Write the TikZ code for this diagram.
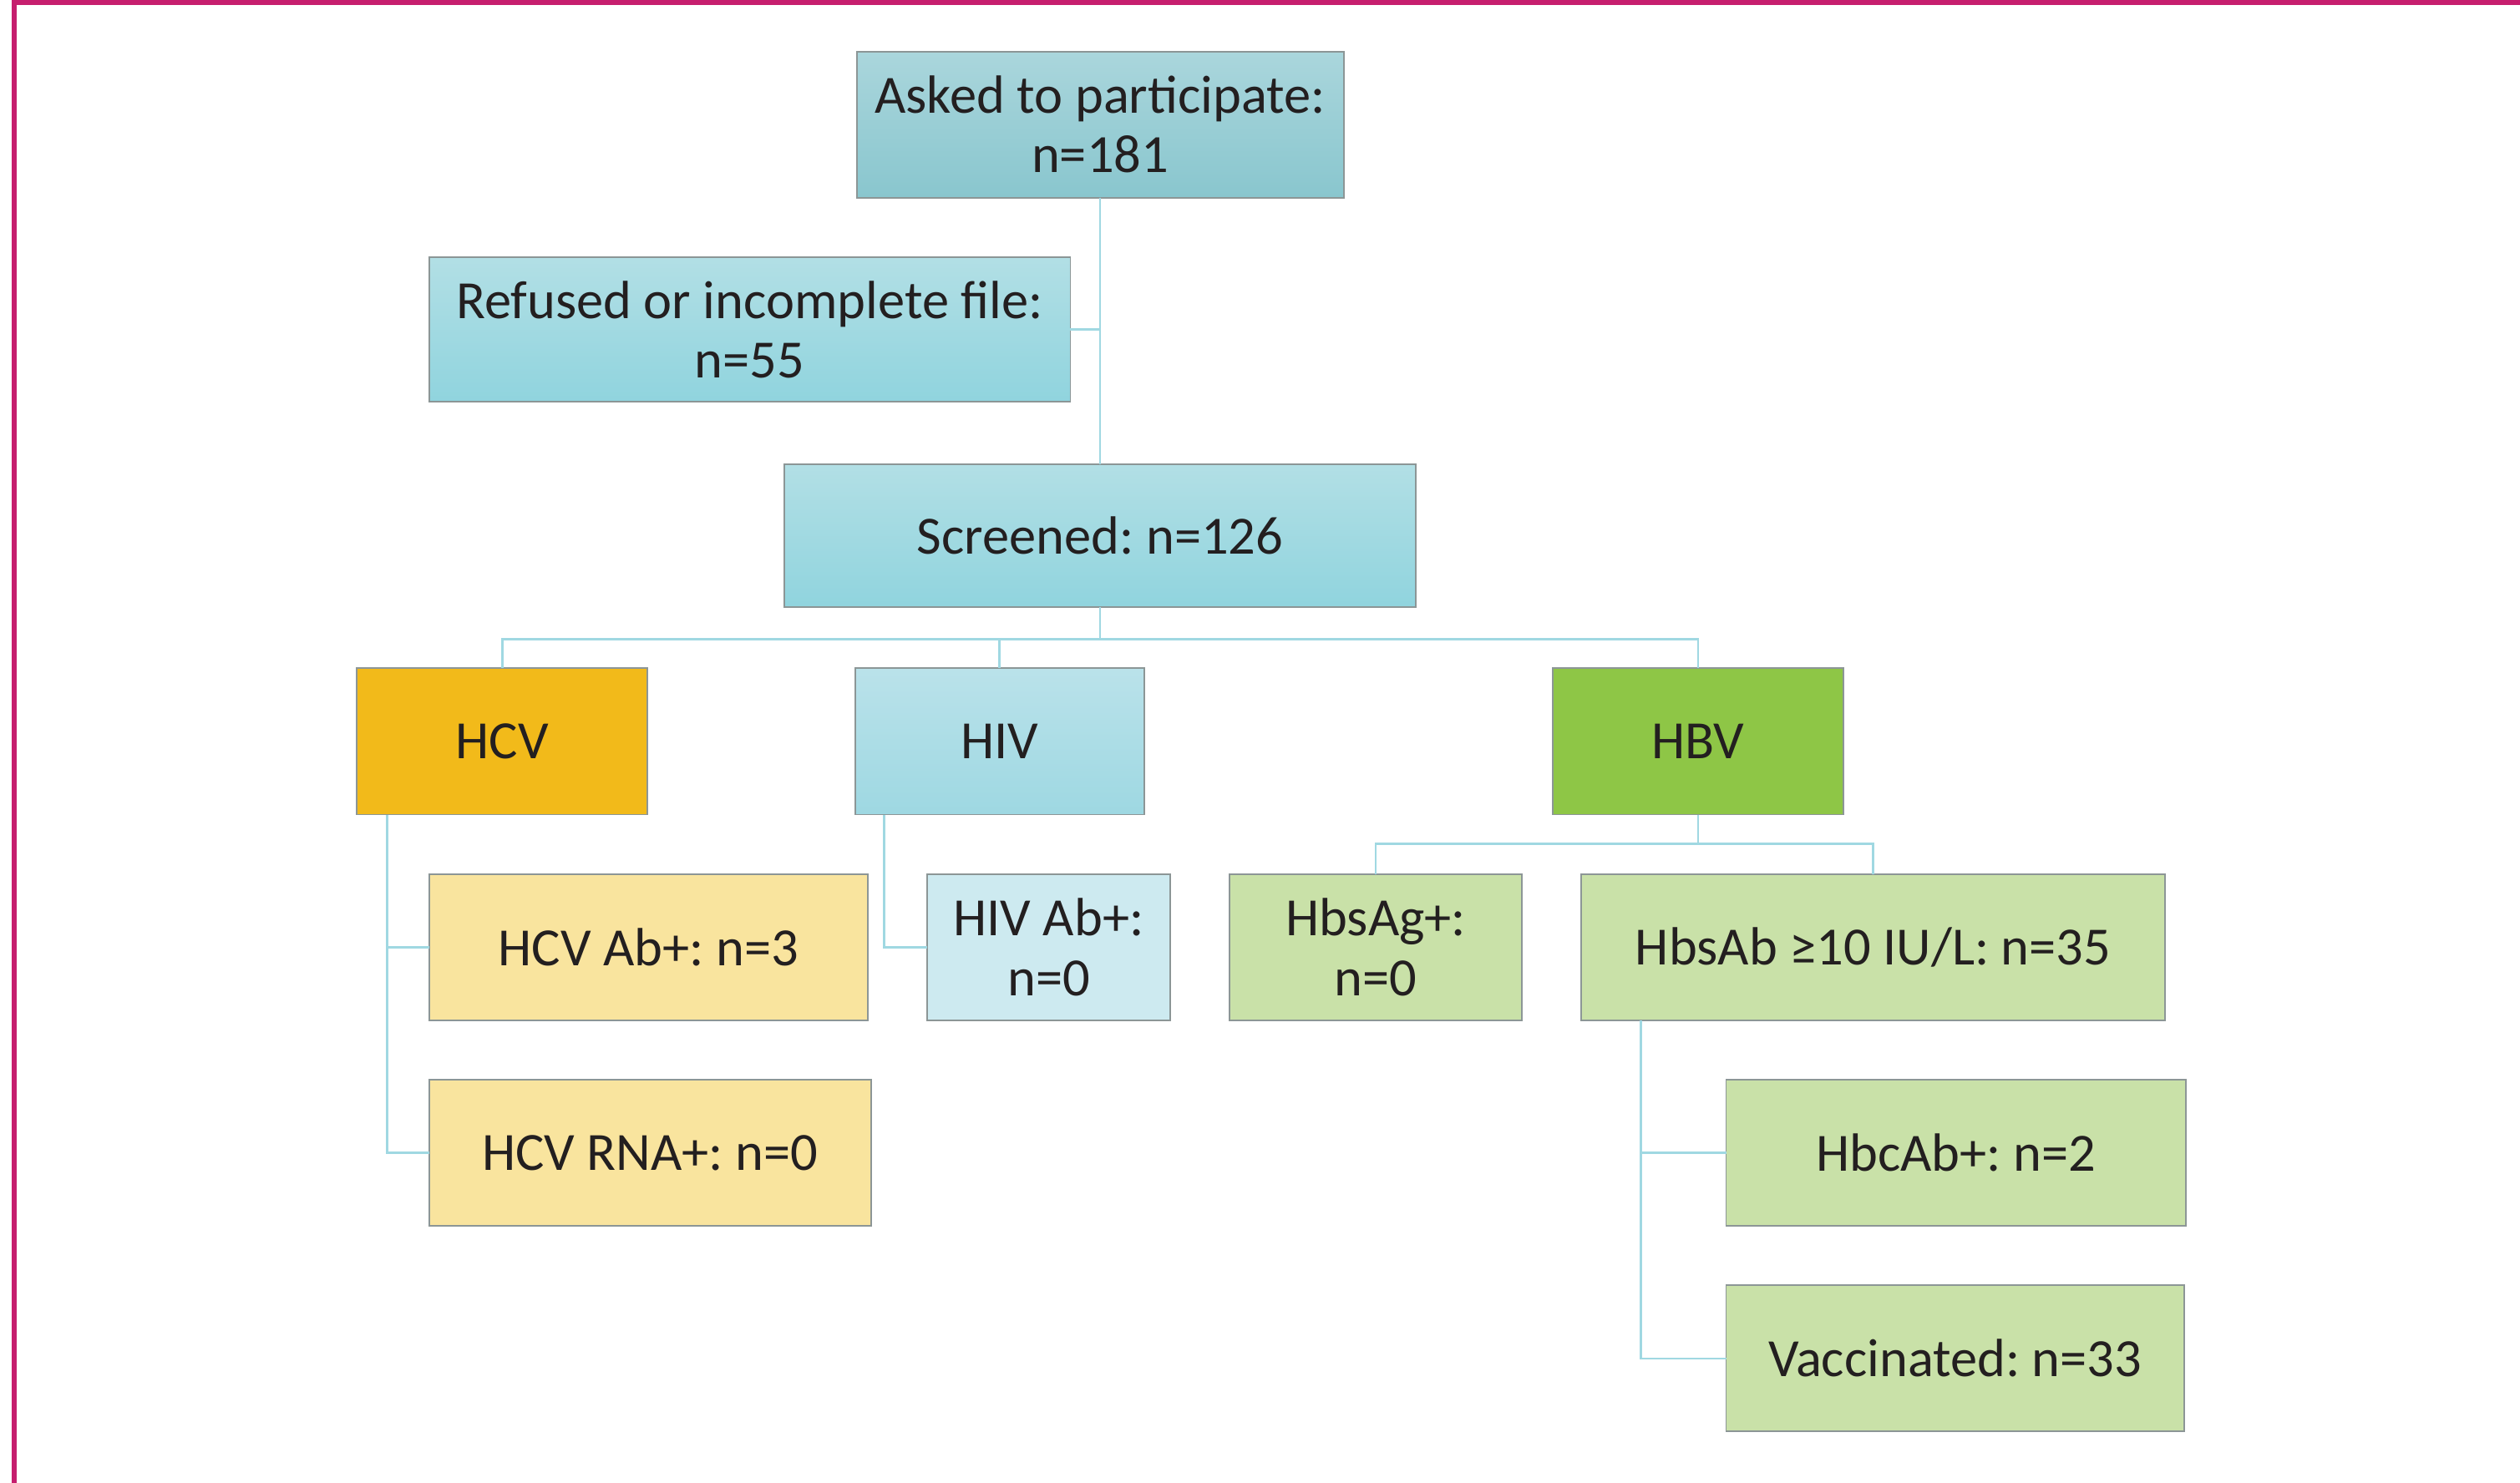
\documentclass[tikz,border=0pt]{standalone}
\usepackage{fontspec}
\setmainfont{Carlito}
\frenchspacing
\definecolor{frame}{RGB}{198,30,110}
\definecolor{conn}{RGB}{160,216,226}
\definecolor{boxline}{RGB}{140,150,150}
\definecolor{txt}{RGB}{35,31,32}
\definecolor{askTop}{RGB}{170,214,220}
\definecolor{askBot}{RGB}{137,198,206}
\definecolor{blTop}{RGB}{178,223,229}
\definecolor{blBot}{RGB}{144,212,222}
\definecolor{hivTop}{RGB}{186,226,234}
\definecolor{hivBot}{RGB}{158,216,226}
\definecolor{hcvC}{RGB}{242,186,26}
\definecolor{hcvL}{RGB}{249,228,158}
\definecolor{hivL}{RGB}{205,234,240}
\definecolor{hbvC}{RGB}{142,198,70}
\definecolor{hbvL}{RGB}{201,225,168}
\tikzset{
  box/.style={draw=boxline, line width=1pt, inner sep=0pt, outer sep=0pt,
    align=center, text=txt, font=\fontsize{33.5}{37}\selectfont},
  wire/.style={draw=conn, line width=1.4pt}
}
\begin{document}
\begin{tikzpicture}[x=1pt,y=-1pt]
\useasboundingbox (0,0) rectangle (1568,923);
\fill[white] (0,0) rectangle (1568,923);
\draw[frame, line width=3pt] (9,923) -- (9,1.5) -- (1568,1.5);

\node[box, top color=askTop, bottom color=askBot, minimum width=303, minimum height=91] (asked) at (684.5,77.5) {Asked to participate:\\n=181};
\node[box, top color=blTop, bottom color=blBot, minimum width=399, minimum height=90] (refused) at (466.5,205) {Refused or incomplete file:\\n=55};
\node[box, top color=blTop, bottom color=blBot, minimum width=393, minimum height=89] (screened) at (684.5,333.5) {Screened: n=126};

\node[box, fill=hcvC, minimum width=181, minimum height=91] (hcv) at (312.5,461.5) {HCV};
\node[box, top color=hivTop, bottom color=hivBot, minimum width=180, minimum height=91] (hiv) at (622,461.5) {HIV};
\node[box, fill=hbvC, minimum width=181, minimum height=91] (hbv) at (1056.5,461.5) {HBV};

\node[box, fill=hcvL, minimum width=273, minimum height=91] (hcvab) at (403.5,589.5) {HCV Ab+: n=3};
\node[box, fill=hcvL, minimum width=275, minimum height=91] (hcvrna) at (404.5,717.5) {HCV RNA+: n=0};
\node[box, fill=hivL, minimum width=151, minimum height=91] (hivab) at (652.5,589.5) {HIV Ab+:\\n=0};
\node[box, fill=hbvL, minimum width=182, minimum height=91] (hbsag) at (856,589.5) {HbsAg+:\\n=0};
\node[box, fill=hbvL, minimum width=363, minimum height=91] (hbsab) at (1165.5,589.5) {HbsAb ≥10 IU/L: n=35};
\node[box, fill=hbvL, minimum width=286, minimum height=91] (hbcab) at (1217,717.5) {HbcAb+: n=2};
\node[box, fill=hbvL, minimum width=285, minimum height=91] (vacc) at (1216.5,845.5) {Vaccinated: n=33};

% connectors
\draw[wire] (asked.south) -- (screened.north);
\draw[wire] (refused.east) -- (refused.east -| asked.south);
\draw[wire] (screened.south) -- ++(0,20) -| (hcv.north);
\draw[wire] (screened.south) -- ++(0,20) -| (hiv.north);
\draw[wire] (screened.south) -- ++(0,20) -| (hbv.north);
\draw[wire] ([xshift=19pt]hcv.south west) |- (hcvab.west);
\draw[wire] ([xshift=19pt]hcv.south west) |- (hcvrna.west);
\draw[wire] ([xshift=18pt]hiv.south west) |- (hivab.west);
\draw[wire] (hbv.south) -- ++(0,18) -| (hbsag.north);
\draw[wire] (hbv.south) -- ++(0,18) -| (hbsab.north);
\draw[wire] ([xshift=37pt]hbsab.south west) |- (hbcab.west);
\draw[wire] ([xshift=37pt]hbsab.south west) |- (vacc.west);
\end{tikzpicture}
\end{document}
